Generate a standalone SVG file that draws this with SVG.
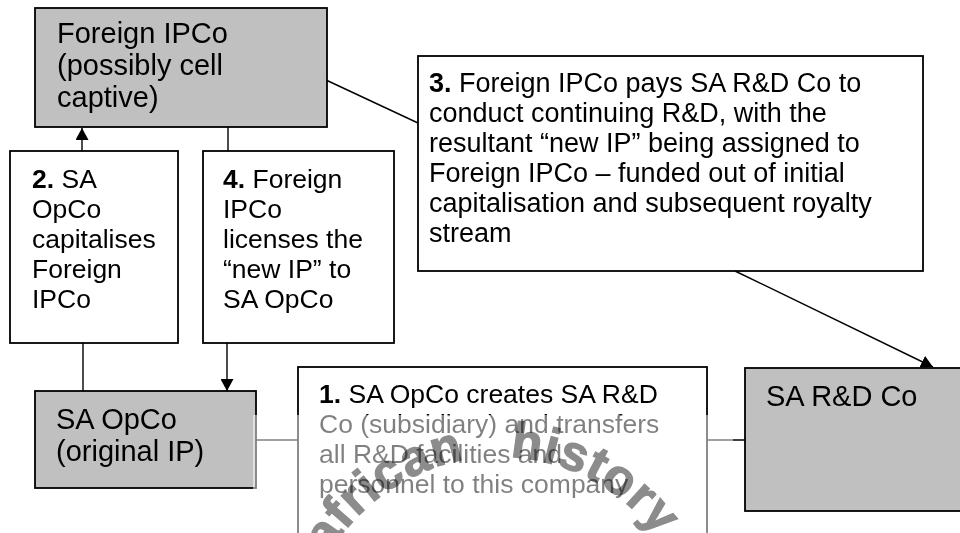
<svg xmlns="http://www.w3.org/2000/svg" width="960" height="533" viewBox="0 0 960 533">
<defs>
<marker id="arr" markerUnits="userSpaceOnUse" markerWidth="12" markerHeight="13" viewBox="0 0 12 13" refX="12" refY="6.5" orient="auto">
<path d="M0,0 L12,6.5 L0,13 z" fill="#000"/>
</marker>
<path id="wmArc" d="M329.3,554 A197,197 0 0 1 657.6,536.8"/>
</defs>
<style>
.box{stroke:#000;stroke-width:1.8;}
.node{fill:#c0c0c0;}
.step{fill:#fff;}
.t{font-family:"Liberation Sans",Arial,sans-serif;fill:#000;}
.tn{font-size:29px;}
.ts{font-size:26.5px;}
.t3{font-size:27px;}
.c{stroke:#000;stroke-width:1.4;fill:none;}
.b{font-weight:bold;}
.wm{font-family:"Liberation Sans",Arial,sans-serif;font-weight:bold;font-size:50px;letter-spacing:1px;word-spacing:30px;fill:#8c8c8c;stroke:#8c8c8c;stroke-width:1.2px;mix-blend-mode:multiply;}
</style>
<rect width="960" height="533" fill="#fff"/>

<g id="connectors">
<line class="c" x1="82" y1="151" x2="82" y2="128" marker-end="url(#arr)"/>
<line class="c" x1="228" y1="127" x2="228" y2="151"/>
<line class="c" x1="83" y1="343" x2="83" y2="391"/>
<line class="c" x1="227" y1="343" x2="227" y2="391" marker-end="url(#arr)"/>
<line class="c" x1="326" y1="80" x2="418" y2="123"/>
<line class="c" x1="735" y1="271" x2="933" y2="367" marker-end="url(#arr)"/>
<line class="c" x1="250" y1="440" x2="298" y2="440"/>
<line class="c" x1="707" y1="440" x2="750" y2="440"/>
</g>

<g id="foreign-ipco">
<rect class="box node" x="35" y="8" width="292" height="119"/>
<text class="t tn" x="57" y="43">Foreign IPCo</text>
<text class="t tn" x="57" y="75">(possibly cell</text>
<text class="t tn" x="57" y="107">captive)</text>
</g>

<g id="step2">
<rect class="box step" x="10" y="151" width="168" height="192"/>
<text class="t ts" x="32" y="188"><tspan class="b">2.</tspan> SA</text>
<text class="t ts" x="32" y="218">OpCo</text>
<text class="t ts" x="32" y="248">capitalises</text>
<text class="t ts" x="32" y="278">Foreign</text>
<text class="t ts" x="32" y="308">IPCo</text>
</g>

<g id="step4">
<rect class="box step" x="203" y="151" width="191" height="192"/>
<text class="t ts" x="223" y="188"><tspan class="b">4.</tspan> Foreign</text>
<text class="t ts" x="223" y="218">IPCo</text>
<text class="t ts" x="223" y="248">licenses the</text>
<text class="t ts" x="223" y="278">“new IP” to</text>
<text class="t ts" x="223" y="308">SA OpCo</text>
</g>

<g id="step3">
<rect class="box step" x="418" y="56" width="505" height="215"/>
<text class="t t3" x="429" y="92"><tspan class="b">3.</tspan> Foreign IPCo pays SA R&amp;D Co to</text>
<text class="t t3" x="429" y="122">conduct continuing R&amp;D, with the</text>
<text class="t t3" x="429" y="152">resultant “new IP” being assigned to</text>
<text class="t t3" x="429" y="182">Foreign IPCo – funded out of initial</text>
<text class="t t3" x="429" y="212">capitalisation and subsequent royalty</text>
<text class="t t3" x="429" y="242">stream</text>
</g>

<g id="sa-opco">
<rect class="box node" x="35" y="391" width="221" height="97"/>
<text class="t tn" x="56" y="429">SA OpCo</text>
<text class="t tn" x="56" y="461">(original IP)</text>
</g>

<g id="step1">
<rect class="box step" x="298" y="367" width="409" height="180"/>
<text class="t ts" x="319" y="403"><tspan class="b">1.</tspan> SA OpCo creates SA R&amp;D</text>
<text class="t ts" x="319" y="433">Co (subsidiary) and transfers</text>
<text class="t ts" x="319" y="463">all R&amp;D facilities and</text>
<text class="t ts" x="319" y="493">personnel to this company</text>
</g>

<g id="sa-rd-co">
<rect class="box node" x="745" y="368" width="225" height="143"/>
<text class="t tn" x="766" y="406">SA R&amp;D Co</text>
</g>

<g id="watermark">
<rect x="253" y="415" width="480" height="118" fill="#fff" fill-opacity="0.5"/>
<text class="wm"><textPath href="#wmArc" startOffset="50%" text-anchor="middle">african history</textPath></text>
</g>
</svg>
